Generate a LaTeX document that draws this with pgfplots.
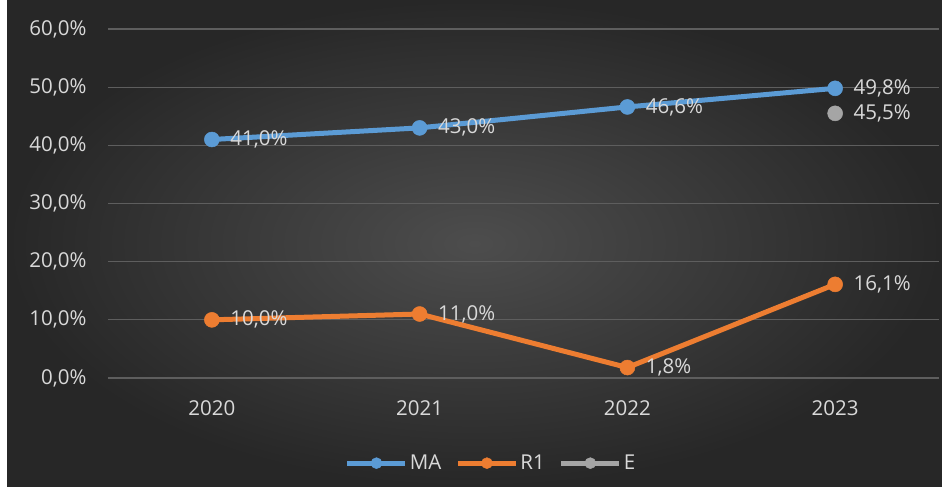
\documentclass[border=0pt]{standalone}
\usepackage{fontspec}
\setmainfont{Open Sans}
\usepackage{pgfplots}
\pgfplotsset{compat=1.18}
\definecolor{bgin}{HTML}{4D4D4D}
\definecolor{bgout}{HTML}{272727}
\definecolor{txt}{HTML}{D9D9D9}
\definecolor{gridc}{HTML}{5E5E5E}
\definecolor{cMA}{HTML}{5B9BD5}
\definecolor{cR}{HTML}{ED7D31}
\definecolor{cE}{HTML}{A5A5A5}
\newcommand{\lblfont}{\fontsize{20.5}{24}\selectfont}

\begin{document}
\begin{tikzpicture}[x=1pt,y=1pt]
\fill[white] (0,0) rectangle (942,487);
\shade[inner color=bgin, outer color=bgout] (7,0) rectangle (942,487);
\useasboundingbox (0,0) rectangle (942,487);
\begin{axis}[
  at={(108pt,109pt)}, anchor=south west,
  scale only axis, width=831pt, height=349pt,
  xmin=-0.5, xmax=3.5, ymin=0, ymax=60,
  xtick={0,1,2,3}, xticklabels={2020,2021,2022,2023},
  ytick={0,10,20,30,40,50,60},
  yticklabels={{0,0\%},{10,0\%},{20,0\%},{30,0\%},{40,0\%},{50,0\%},{60,0\%}},
  axis line style={draw=none},
  major tick length=0pt,
  ymajorgrids, grid style={gridc, line width=1.3pt},
  tick label style={txt, font=\lblfont},
  yticklabel style={xshift=-18pt},
  xticklabel style={yshift=-19pt},
  nodes near coords,
  point meta=explicit symbolic,
  every node near coord/.style={anchor=west, xshift=15pt, txt, font=\lblfont},
  legend columns=-1,
  legend style={draw=none, fill=none, text=txt, font=\lblfont,
    at={(0.461,-0.244)}, anchor=center,
    /tikz/every even column/.append style={column sep=12pt}},
  legend image code/.code={
    \draw[#1, line width=5pt, mark repeat=2, mark phase=2, mark size=5.5pt]
      plot coordinates {(0pt,0pt) (29pt,0pt) (58pt,0pt)};},
]
\addplot[cMA, line width=5pt, mark=*, mark size=7.5pt,
  mark options={solid, fill=cMA, draw=cMA, line width=0.5pt}]
  coordinates {(0,41.0) [41,0\%] (1,43.0) [43,0\%] (2,46.6) [46,6\%] (3,49.8) [49,8\%]};
\addplot[cR, line width=5pt, mark=*, mark size=7.5pt,
  mark options={solid, fill=cR, draw=cR, line width=0.5pt}]
  coordinates {(0,10.0) [10,0\%] (1,11.0) [11,0\%] (2,1.8) [1,8\%] (3,16.1) [16,1\%]};
\addplot[cE, line width=5pt, mark=*, mark size=7.5pt,
  mark options={solid, fill=cE, draw=cE, line width=0.5pt}]
  coordinates {(3,45.5) [45,5\%]};
\legend{MA, R1, E}
\end{axis}
\end{tikzpicture}
\end{document}
